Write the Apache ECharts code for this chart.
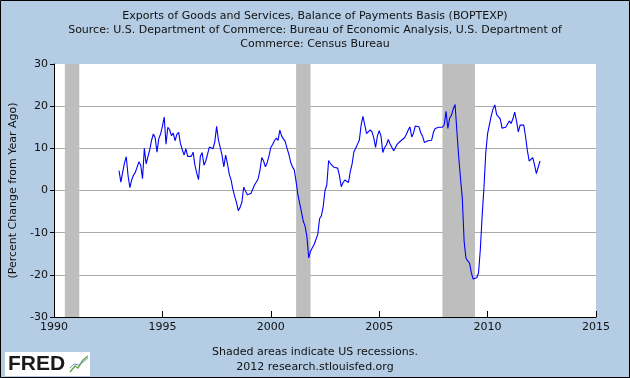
<!DOCTYPE html>
<html>
<head>
<meta charset="utf-8">
<script src="https://cdn.jsdelivr.net/npm/echarts@6/dist/echarts.min.js"></script>
<style>
html,body{margin:0;padding:0;background:#B4CDE4;}
#chart{width:630px;height:378px;}
</style>
</head>
<body>
<div id="chart"></div>
<script>
// Monthly series: percent change from year ago, starting Jan 1993
const startYear = 1993;
const startMonth = 1;
const values = [
  4.7, 2.0, 4.3, 6.5, 8.0, 3.5, 0.7, 2.5, 3.6, 4.3, 4.6, 6.8,
  6.0, 2.8, 10.0, 6.3, 6.4, 9.7, 11.9, 13.4, 12.5, 9.1, 12.3, 13.4,
  15.2, 17.4, 11.0, 15.0, 14.4, 13.0, 13.6, 11.8, 13.3, 13.8, 11.1, 9.7,
  8.4, 9.9, 8.1, 8.3, 8.1, 9.1, 6.0, 4.1, 2.6, 8.1, 9.0, 6.0,
  7.0, 8.6, 10.3, 10.5, 9.9, 11.5, 15.2, 12.0, 11.6, 8.4, 5.6, 8.4,
  6.4, 3.9, 2.5, 0.3, -1.4, -2.8, -4.8, -4.0, -2.8, 0.8, 0.9, -1.0,
  -1.1, -0.7, -0.3, 1.3, 2.0, 2.8, 4.8, 7.8, 7.0, 5.6, 6.6, 8.2,
  10.2, 10.9, 11.8, 12.4, 11.9, 14.3, 12.9, 12.9, 11.6, 10.0, 8.6, 6.7,
  5.6, 4.9, 2.1, -1.0, -1.4, -5.2, -7.3, -8.5, -11.0, -16.0, -14.4, -13.6,
  -12.8, -12.4, -10.4, -6.7, -6.0, -3.8, 0.0, 1.3, 7.1, 6.4, 6.4, 5.5,
  5.3, 5.3, 3.5, 0.9, 1.9, 2.5, 2.9, 1.9, 4.5, 6.3, 9.2, 10.0,
  11.0, 11.9, 15.5, 17.6, 18.0, 13.5, 13.1, 14.4, 13.9, 12.5, 10.2, 12.9,
  14.2, 12.9, 9.0, 10.2, 10.8, 12.1, 11.1, 10.8, 9.4, 10.2, 11.0, 11.3,
  11.8, 11.9, 12.5, 13.3, 14.3, 15.1, 12.7, 13.6, 15.3, 15.1, 15.1, 13.7,
  12.9, 11.4, 11.6, 11.8, 11.7, 11.9, 13.8, 14.7, 15.0, 15.0, 14.9, 15.0,
  15.6, 18.8, 14.7, 17.2, 17.8, 19.4, 20.4, 14.1, 8.0, 2.9, -1.8, -12.0,
  -16.0, -16.7, -17.2, -19.5, -21.0, -21.1, -20.7, -19.5, -13.8, -5.9, 0.8, 9.0,
  13.5, 13.9, 17.7, 19.3, 20.3, 18.0, 18.2, 17.0, 14.8, 15.0, 15.0, 15.4,
  16.5, 15.9, 17.0, 18.6, 16.5, 13.9, 15.5, 15.5, 15.5, 12.8, 9.5, 7.0,
  6.8, 7.8, 6.0, 4.0, 4.4, 7.0
];
const xTicks = [1990, 1995, 2000, 2005, 2010, 2015];
const yTicks = [-30, -20, -10, 0, 10, 20, 30];
const recessionStarts = [1990.5, 2001.167, 2007.917];
const recessionEnds = [1991.167, 2001.833, 2009.417];
const titleLines = [
  'Exports of Goods and Services, Balance of Payments Basis (BOPTEXP)',
  'Source: U.S. Department of Commerce: Bureau of Economic Analysis, U.S. Department of',
  'Commerce: Census Bureau'
];
const yAxisTitle = '(Percent Change from Year Ago)';
const footLines = ['Shaded areas indicate US recessions.', '2012 research.stlouisfed.org'];

const seriesData = values.map((v, i) => [startYear + (startMonth - 1 + i) / 12, v]);
const recessionAreas = recessionStarts.map((s, i) => [{ xAxis: s }, { xAxis: recessionEnds[i] }]);

const FONT = 'DejaVu Sans';
const chart = echarts.init(document.getElementById('chart'), null, { renderer: 'canvas' });
chart.setOption({
  backgroundColor: '#B4CDE4',
  animation: false,
  title: {
    text: titleLines.join('\n'),
    left: 'center',
    top: 4,
    textStyle: { fontFamily: FONT, fontSize: 11, fontWeight: 'normal', color: '#111', lineHeight: 14 }
  },
  grid: {
    left: 54, right: 34, top: 64, bottom: 61,
    show: true, backgroundColor: '#FFFFFF', borderWidth: 0
  },
  xAxis: {
    type: 'value',
    min: xTicks[0], max: xTicks[xTicks.length - 1], interval: 5,
    axisLine: { show: true, onZero: false, lineStyle: { color: '#000', width: 1 } },
    axisTick: { show: true, inside: true, length: 6, lineStyle: { color: '#000' } },
    axisLabel: { fontFamily: FONT, fontSize: 11, color: '#111', margin: 5, formatter: v => String(v) },
    splitLine: { show: false }
  },
  yAxis: {
    type: 'value',
    min: yTicks[0], max: yTicks[yTicks.length - 1], interval: 10,
    name: yAxisTitle,
    nameLocation: 'middle',
    nameGap: 25,
    nameRotate: 90,
    nameTextStyle: { fontFamily: FONT, fontSize: 11, color: '#111' },
    axisLine: { show: true, lineStyle: { color: '#000', width: 1 } },
    axisTick: { show: true, inside: false, length: 4, lineStyle: { color: '#000' } },
    axisLabel: { fontFamily: FONT, fontSize: 11, color: '#111', margin: 6 },
    splitLine: { show: true, showMinLine: false, showMaxLine: false, lineStyle: { color: '#AAAAAA', width: 1 } }
  },
  series: [{
    type: 'line',
    data: seriesData,
    showSymbol: false,
    symbol: 'none',
    lineStyle: { color: '#0000FF', width: 1.1 },
    z: 5,
    markArea: {
      silent: true,
      itemStyle: { color: '#BEBEBE', opacity: 1 },
      data: recessionAreas,
      z: 1
    }
  }],
  graphic: [
    { type: 'text', left: 'center', top: 345,
      style: { text: footLines.join('\n'), fontFamily: FONT, fontSize: 11, fill: '#111', lineHeight: 15, textAlign: 'center' } },
    { type: 'rect', shape: { x: 5, y: 352, width: 85, height: 24 }, style: { fill: '#FFFFFF' } },
    { type: 'text', x: 8, y: 354,
      style: { text: 'FRED', fontFamily: 'Liberation Sans', fontSize: 21, fontWeight: 'bold', fill: '#1A1A1A' } },
    { type: 'polyline', shape: { points: [[70, 372], [75, 366], [78, 368], [83, 360], [88, 356]] },
      style: { stroke: '#6AA84F', lineWidth: 1.5, fill: null } },
    { type: 'polyline', shape: { points: [[70, 368], [74, 364], [79, 365], [83, 362], [88, 358]] },
      style: { stroke: '#7B8FC8', lineWidth: 1, fill: null } },
    { type: 'rect', shape: { x: 0.5, y: 0.5, width: 629, height: 377 },
      style: { fill: null, stroke: '#000000', lineWidth: 1 }, z: 100 }
  ]
});
</script>
</body>
</html>
